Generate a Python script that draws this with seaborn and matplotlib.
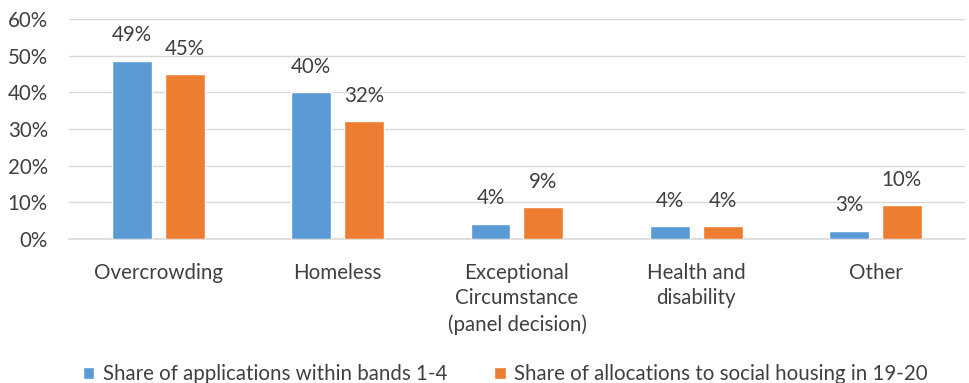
import pandas as pd
import matplotlib
matplotlib.use('Agg')
import matplotlib.pyplot as plt
import seaborn as sns
from matplotlib.ticker import PercentFormatter

# 数据
categories = ['Overcrowding', 'Homeless', 'Exceptional\nCircumstance\n(panel decision)',
              'Health and\ndisability', 'Other']
applications = [0.487, 0.400, 0.042, 0.035, 0.023]
allocations = [0.449, 0.322, 0.086, 0.035, 0.093]
applications_lbl = ['49%', '40%', '4%', '4%', '3%']
allocations_lbl = ['45%', '32%', '9%', '4%', '10%']
series_names = ['Share of applications within bands 1-4',
                'Share of allocations to social housing in 19-20']

df = pd.DataFrame({
    'category': categories * 2,
    'share': applications + allocations,
    'series': [series_names[0]] * 5 + [series_names[1]] * 5,
})

sns.set_theme(style='white')
plt.rcParams['font.family'] = ['Lato', 'DejaVu Sans']

fig = plt.figure(figsize=(9.69, 3.83), dpi=100)
ax = fig.add_axes([0.071, 0.376, 0.925, 0.574])

sns.barplot(data=df, x='category', y='share', hue='series',
            palette=['#5b9bd5', '#ed7d31'], width=0.59, gap=0.245,
            saturation=1, ax=ax, zorder=3)

# 数值标签
for cont, lbls in zip(ax.containers, [applications_lbl, allocations_lbl]):
    ax.bar_label(cont, labels=lbls, padding=11, fontsize=14.8, color='#404040')

ax.set_ylim(0, 0.6)
ax.set_yticks([0, 0.1, 0.2, 0.3, 0.4, 0.5, 0.6])
ax.yaxis.set_major_formatter(PercentFormatter(1.0, decimals=0))
ax.grid(axis='y', color='#d9d9d9', linewidth=1, zorder=0)
ax.set_xlabel('')
ax.set_ylabel('')
for s in ['top', 'right', 'left']:
    ax.spines[s].set_visible(False)
ax.spines['bottom'].set_color('#d9d9d9')
ax.tick_params(axis='both', length=0, labelsize=14.8, colors='#404040')
ax.tick_params(axis='x', pad=17)
ax.tick_params(axis='y', pad=15)
for t in ax.get_xticklabels():
    t.set_linespacing(1.35)

ax.legend(loc='lower center', bbox_to_anchor=(0.487, -0.745), ncol=2, frameon=False,
          fontsize=14.8, handlelength=0.55, handleheight=0.55, columnspacing=2.3,
          handletextpad=0.4, labelcolor='#404040')

fig.savefig('out.png', dpi=100)
